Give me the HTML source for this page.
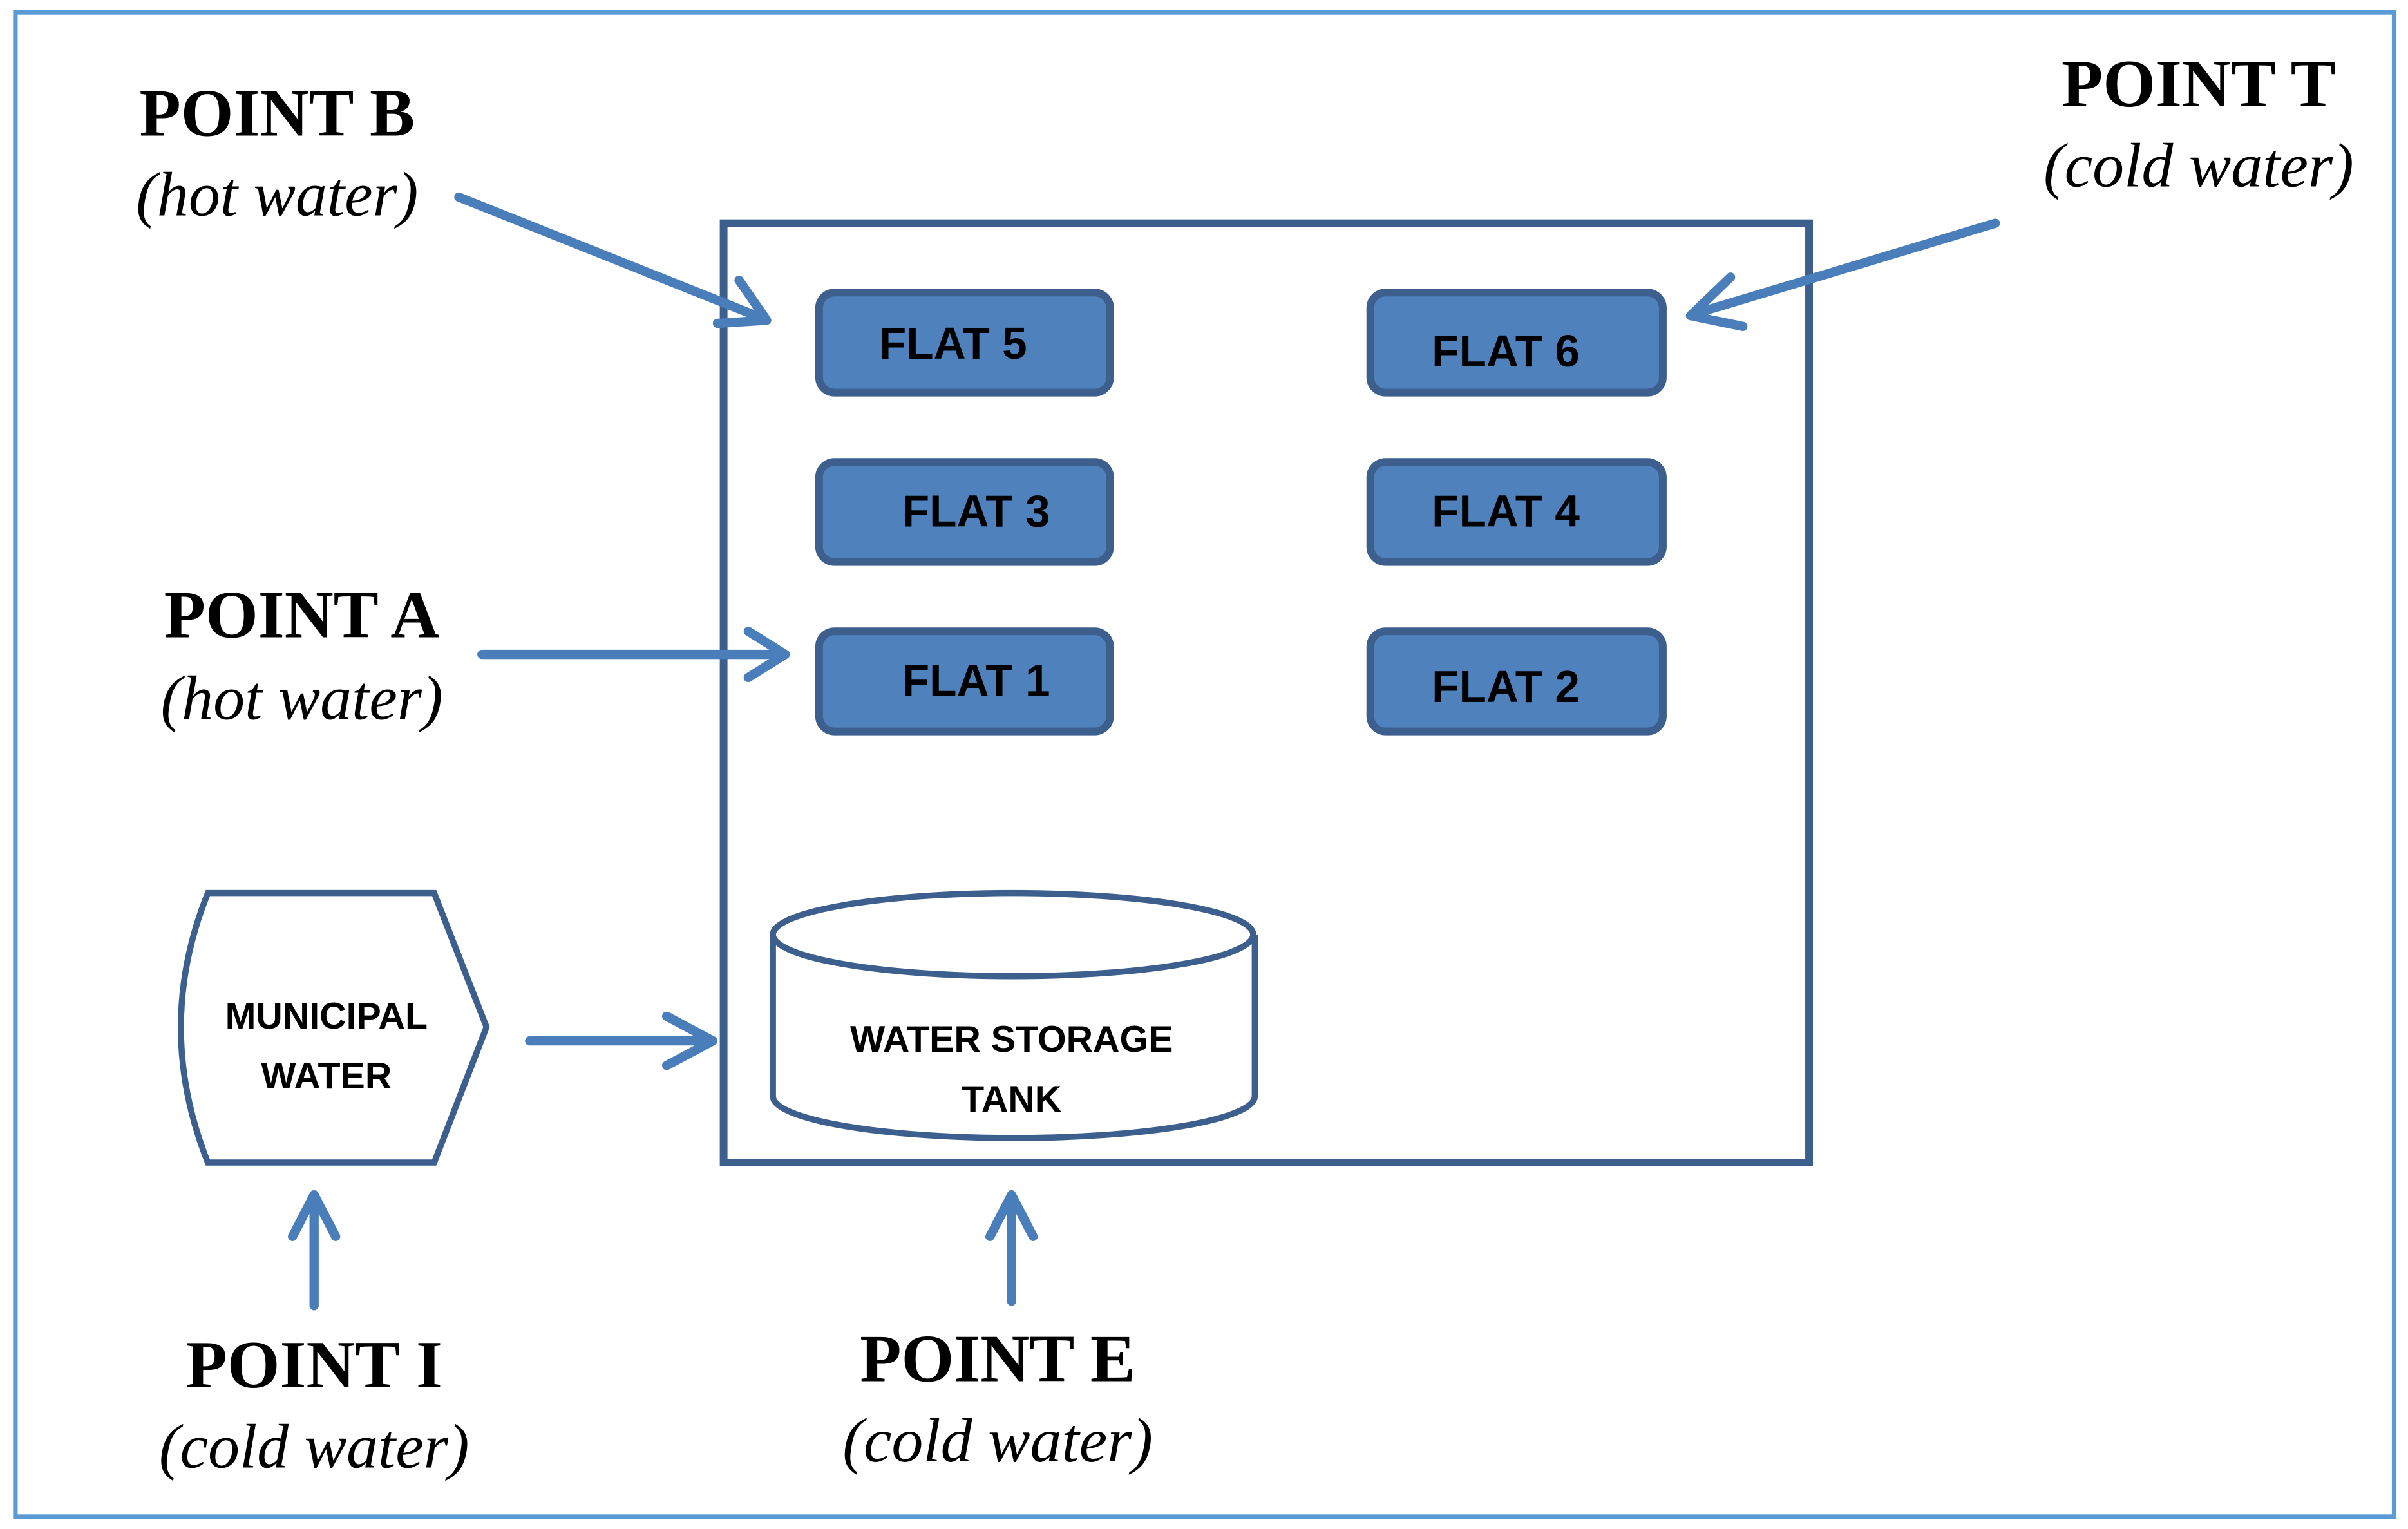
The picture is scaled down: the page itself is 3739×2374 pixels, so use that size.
<!DOCTYPE html>
<html><head><meta charset="utf-8"><style>
html,body{margin:0;padding:0;background:#fff;}
svg{display:block;}
.pt{font-family:"Liberation Serif",serif;font-weight:bold;font-size:44px;fill:#000;}
.it{font-family:"Liberation Serif",serif;font-style:italic;font-size:41px;fill:#000;}
.fl{font-family:"Liberation Sans",sans-serif;font-weight:bold;font-size:29px;fill:#000;}
.sm{font-family:"Liberation Sans",sans-serif;font-weight:bold;font-size:24px;fill:#000;}
</style></head><body>
<svg width="3739" height="2374" viewBox="0 0 1564 993" preserveAspectRatio="none" xmlns="http://www.w3.org/2000/svg">
<rect x="10" y="8" width="1545" height="977" fill="#fff" stroke="#5b9bd5" stroke-width="3"/>
<rect x="470" y="145" width="705" height="610" fill="#fff" stroke="#3c5f8e" stroke-width="5"/>
<g fill="#4f81bd" stroke="#3c5f8e" stroke-width="5">
<rect x="532" y="190" width="189" height="65" rx="10"/>
<rect x="890" y="190" width="190" height="65" rx="10"/>
<rect x="532" y="300" width="189" height="65" rx="10"/>
<rect x="890" y="300" width="190" height="65" rx="10"/>
<rect x="532" y="410" width="189" height="65" rx="10"/>
<rect x="890" y="410" width="190" height="65" rx="10"/>
</g>
<g class="fl" text-anchor="middle">
<text x="619" y="233">FLAT 5</text>
<text x="978" y="238">FLAT 6</text>
<text x="634" y="342">FLAT 3</text>
<text x="978" y="342">FLAT 4</text>
<text x="634" y="452">FLAT 1</text>
<text x="978" y="456">FLAT 2</text>
</g>
<path d="M135 580 L282 580 L316 667 L282 755 L135 755 Q100 667 135 580 Z" fill="#fff" stroke="#3c5f8e" stroke-width="4"/>
<g class="sm" text-anchor="middle">
<text x="212" y="668">MUNICIPAL</text>
<text x="212" y="707">WATER</text>
</g>
<path d="M502 607 L502 712 A156 27 0 0 0 815 712 L815 607" fill="#fff" stroke="#3c5f8e" stroke-width="4"/>
<ellipse cx="658" cy="607" rx="156" ry="27" fill="#fff" stroke="#3c5f8e" stroke-width="4"/>
<g class="sm" text-anchor="middle">
<text x="657" y="683">WATER STORAGE</text>
<text x="657" y="722">TANK</text>
</g>
<g stroke="#4a7ebb" stroke-width="6" fill="none" stroke-linecap="round" stroke-linejoin="round">
<line x1="298" y1="128" x2="496" y2="207"/><polyline points="480,182 498,208 466,210"/>
<line x1="1296" y1="145" x2="1100" y2="204"/><polyline points="1124,180 1098,205 1132,212"/>
<line x1="313" y1="425" x2="510" y2="425"/><polyline points="486,410 510,425 486,440"/>
<line x1="344" y1="676" x2="463" y2="676"/><polyline points="433,660 463,676 433,692"/>
<line x1="204" y1="848" x2="204" y2="776"/><polyline points="190,803 204,776 218,803"/>
<line x1="657" y1="845" x2="657" y2="776"/><polyline points="643,803 657,776 671,803"/>
</g>
<g text-anchor="middle">
<text class="pt" x="180" y="88">POINT B</text>
<text class="it" x="180" y="140">(hot water)</text>
<text class="pt" x="1428" y="69">POINT T</text>
<text class="it" x="1428" y="121">(cold water)</text>
<text class="pt" x="196" y="414">POINT A</text>
<text class="it" x="196" y="467">(hot water)</text>
<text class="pt" x="204" y="901">POINT I</text>
<text class="it" x="204" y="953">(cold water)</text>
<text class="pt" x="648" y="897">POINT E</text>
<text class="it" x="648" y="949">(cold water)</text>
</g>
</svg>
</body></html>
